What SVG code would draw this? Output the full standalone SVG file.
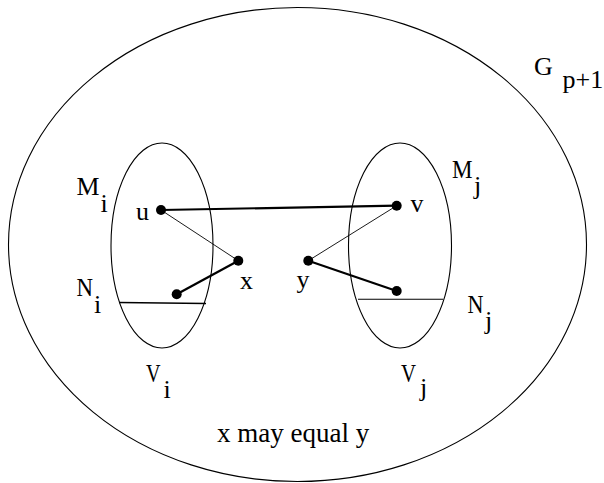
<svg xmlns="http://www.w3.org/2000/svg" width="604" height="483" viewBox="0 0 604 483">
<style>
.sh{fill:none;stroke:#000;stroke-width:1.1}
.thick{stroke:#000;stroke-width:2.2;fill:none}
.thin{stroke:#000;stroke-width:0.9;fill:none}
.dot{fill:#000}
text{font-family:'Liberation Serif','Times New Roman',serif;font-size:26px;fill:#000}
</style>
<rect width="604" height="483" fill="#fff"/>
<g id="G">
<ellipse class="sh" cx="297.5" cy="244.5" rx="289" ry="237"/>
<text x="534" y="75">G</text><text x="562.5" y="88">p+1</text>
</g>
<g id="Vi">
<ellipse class="sh" cx="162" cy="245.5" rx="51" ry="102.5"/>
<line class="sh" x1="119" y1="302.5" x2="206" y2="303.5" style="stroke-width:1.4"/>
<text x="76.5" y="195" textLength="23" lengthAdjust="spacingAndGlyphs">M</text><text x="100.5" y="211.7">i</text>
<text x="76.5" y="296" textLength="16.5" lengthAdjust="spacingAndGlyphs">N</text><text x="94" y="313.3">i</text>
<text x="146" y="381.7" textLength="14.5" lengthAdjust="spacingAndGlyphs">V</text><text x="163.5" y="398">i</text>
</g>
<g id="Vj">
<ellipse class="sh" cx="400" cy="245.5" rx="51.5" ry="102.5"/>
<line class="sh" x1="358" y1="299.3" x2="443" y2="299.3"/>
<text x="452" y="178" textLength="20.5" lengthAdjust="spacingAndGlyphs">M</text><text x="474" y="194">j</text>
<text x="467.5" y="313.3" textLength="16" lengthAdjust="spacingAndGlyphs">N</text><text x="485" y="329">j</text>
<text x="401" y="381.7" textLength="15" lengthAdjust="spacingAndGlyphs">V</text><text x="420" y="396">j</text>
</g>
<g id="edges">
<line class="thick" x1="161" y1="210" x2="396.7" y2="205.7"/>
<line class="thin" x1="161" y1="210" x2="238.3" y2="260.7"/>
<line class="thick" x1="238.3" y1="260.7" x2="176.7" y2="294.3"/>
<line class="thin" x1="396.7" y1="205.7" x2="308.3" y2="260.7"/>
<line class="thick" x1="308.3" y1="260.7" x2="396.7" y2="291"/>
</g>
<g id="u"><circle class="dot" cx="161" cy="210" r="5"/><text x="136" y="220">u</text></g>
<g id="v"><circle class="dot" cx="396.7" cy="205.7" r="5"/><text x="410.5" y="212.3">v</text></g>
<g id="x"><circle class="dot" cx="238.3" cy="260.7" r="5"/><text x="240" y="289">x</text></g>
<g id="y"><circle class="dot" cx="308.3" cy="260.7" r="5"/><text x="296.5" y="287.5">y</text></g>
<g id="ni"><circle class="dot" cx="176.7" cy="294.3" r="5"/></g>
<g id="nj"><circle class="dot" cx="396.7" cy="291" r="5"/></g>
<g id="note"><text x="217" y="441.7" style="font-size:27px">x may equal y</text></g>
</svg>
